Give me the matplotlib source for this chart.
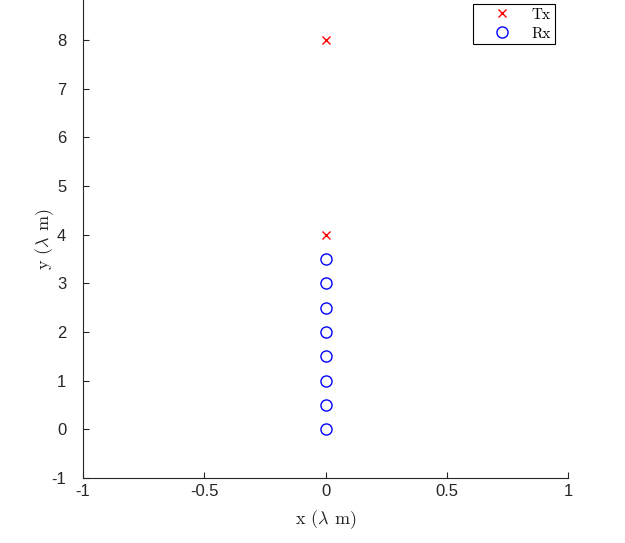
import numpy as np
import matplotlib.pyplot as plt

tx_x = [0, 0]
tx_y = [8, 4]
rx_x = [0, 0, 0, 0, 0, 0, 0, 0]
rx_y = [3.5, 3.0, 2.5, 2.0, 1.5, 1.0, 0.5, 0.0]
xticks = [-1, -0.5, 0, 0.5, 1]
xticklabels = ['-1', '-0.5', '0', '0.5', '1']
yticks = [-1, 0, 1, 2, 3, 4, 5, 6, 7, 8]
yticklabels = ['-1', '0', '1', '2', '3', '4', '5', '6', '7', '8']

plt.rcParams['font.family'] = ['Liberation Sans', 'DejaVu Sans']
plt.rcParams['mathtext.fontset'] = 'cm'
plt.rcParams['axes.unicode_minus'] = False

fig = plt.figure(figsize=(6.25, 5.43), dpi=100)
ax = fig.add_axes([83/625, 1 - 478/543, (568 - 83)/625, 478/543])

ax.plot(tx_x, tx_y, 'x', color='red', markersize=6, markeredgewidth=1.0, label='Tx', linestyle='none')
ax.plot(rx_x, rx_y, 'o', color='blue', markerfacecolor='none', markersize=8, markeredgewidth=1.0, label='Rx', linestyle='none')

ax.set_xlim(-1, 1)
ax.set_ylim(-1, 8.82)
ax.set_xticks(xticks)
ax.set_xticklabels(xticklabels)
ax.set_yticks(yticks)
ax.set_yticklabels(yticklabels)

for s in ['top', 'right']:
    ax.spines[s].set_visible(False)
for s in ['left', 'bottom']:
    ax.spines[s].set_color('#262626')
    ax.spines[s].set_linewidth(0.8)
ax.tick_params(direction='in', length=4, width=0.8, colors='#262626', labelsize=12)
ax.tick_params(axis='y', pad=12)
ax.tick_params(axis='x', pad=4)

ax.set_xlabel(r'x ($\lambda$ m)', family='cmr10', fontsize=13, color='#262626', labelpad=7)
ax.set_ylabel(r'y ($\lambda$ m)', family='cmr10', fontsize=13, color='#262626', labelpad=-3)

leg = ax.legend(loc='upper right', bbox_to_anchor=(555/625, 1 - 4/543), bbox_transform=fig.transFigure,
                prop={'family': 'cmr10', 'size': 11}, fancybox=False, framealpha=1,
                edgecolor='black', borderpad=0.25, handlelength=3.3, handletextpad=0.3,
                labelspacing=0.35, borderaxespad=0)
leg.get_frame().set_linewidth(0.8)

fig.savefig('out.png', dpi=100)
